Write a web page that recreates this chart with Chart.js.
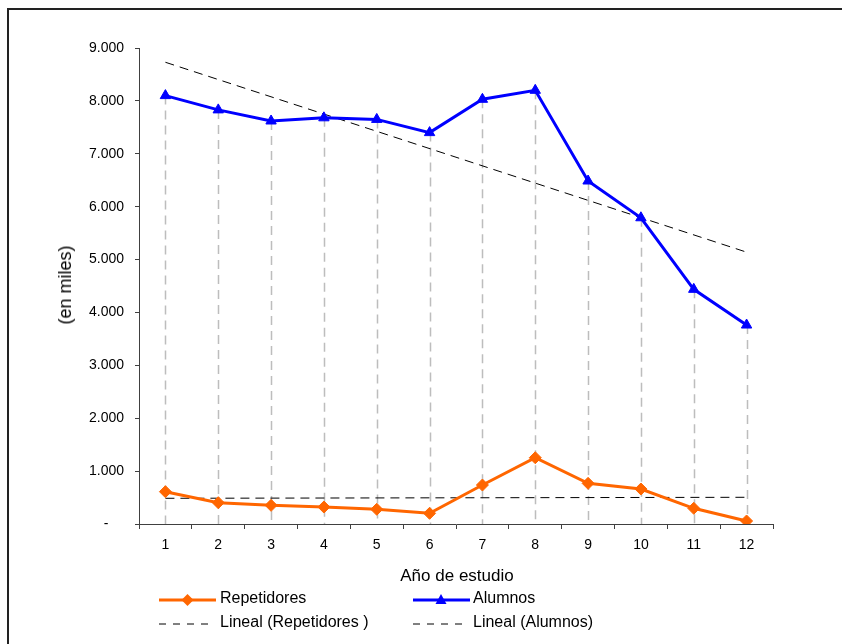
<!DOCTYPE html>
<html>
<head>
<meta charset="utf-8">
<script src="https://cdn.jsdelivr.net/npm/chart.js@4/dist/chart.umd.min.js"></script>
<style>
  html, body { margin: 0; padding: 0; background: #fff; }
  body { width: 842px; height: 644px; position: relative; overflow: hidden; font-family: "Liberation Sans", Arial, sans-serif; color: #000; }
  #frame { position: absolute; left: 7px; top: 8px; width: 900px; height: 700px; border-left: 2px solid #222; border-top: 2px solid #222; box-sizing: border-box; }
  canvas { position: absolute; left: 0; top: 0; }
  .txt { position: absolute; white-space: nowrap; }
  #ytitle { left: 65px; top: 285px; font-size: 18px; line-height: 18px; transform: translate(-50%, -50%) rotate(-90deg); }
  #xtitle { left: 357px; width: 200px; text-align: center; top: 567px; font-size: 17px; line-height: 17px; }
  .leg { position: absolute; font-size: 16px; line-height: 16px; white-space: nowrap; }
  .leg svg { position: absolute; }
</style>
</head>
<body>
<div id="frame"></div>
<canvas id="c" width="842" height="644"></canvas>
<div class="txt" id="ytitle">(en miles)</div>
<div class="txt" id="xtitle">Año de estudio</div>
<div id="legend"></div>
<script>
// ---- data ----
const categories = ['1','2','3','4','5','6','7','8','9','10','11','12'];
const repetidores = [611, 403, 353, 321, 278, 202, 737, 1253, 769, 662, 297, 57];
const alumnos = [8100, 7830, 7620, 7680, 7650, 7400, 8030, 8200, 6485, 5790, 4437, 3762];
// linear trend lines: values at first and last category
const trendRepetidores = [486, null, null, null, null, null, null, null, null, null, null, 505];
const trendAlumnos = [8730, null, null, null, null, null, null, null, null, null, null, 5140];
const yTicks = [0, 1000, 2000, 3000, 4000, 5000, 6000, 7000, 8000, 9000];
const legendLabels = ['Repetidores', 'Alumnos', 'Lineal (Repetidores )', 'Lineal (Alumnos)'];

const FONT = '"Liberation Sans", Arial, sans-serif';

function fmt(v) {
  if (v === 0) return '-\u2007\u2007';
  return v.toLocaleString('de-DE', { minimumFractionDigits: 3 }).replace(',', '.') ;
}
function fmtThousands(v) {
  if (v === 0) return '-\u2007\u2007';
  const k = Math.floor(v / 1000);
  return k + '.000';
}

const dropLines = {
  id: 'dropLines',
  beforeDatasetsDraw(chart) {
    const { ctx, scales: { x, y } } = chart;
    ctx.save();
    ctx.strokeStyle = '#bdbdbd';
    ctx.lineWidth = 1.5;
    ctx.setLineDash([9, 6]);
    alumnos.forEach((v, i) => {
      const px = Math.round(x.getPixelForValue(i)) + 0.5;
      ctx.beginPath();
      ctx.moveTo(px, y.getPixelForValue(v));
      ctx.lineTo(px, y.getPixelForValue(0));
      ctx.stroke();
    });
    ctx.restore();
  }
};

new Chart(document.getElementById('c'), {
  type: 'line',
  data: {
    labels: categories,
    datasets: [
      { label: legendLabels[2], data: trendRepetidores, borderColor: '#000', borderWidth: 1, borderDash: [9, 6], pointRadius: 0, spanGaps: true, fill: false, order: 3 },
      { label: legendLabels[3], data: trendAlumnos, borderColor: '#000', borderWidth: 1, borderDash: [9, 6], pointRadius: 0, spanGaps: true, fill: false, order: 4 },
      { label: legendLabels[0], data: repetidores, borderColor: '#FF6600', backgroundColor: '#FF6600', borderWidth: 3, pointStyle: 'rectRot', pointRadius: 6, pointBorderWidth: 1, tension: 0, order: 1 },
      { label: legendLabels[1], data: alumnos, borderColor: '#0000FF', backgroundColor: '#0000FF', borderWidth: 3, pointStyle: 'triangle', pointRadius: 6, pointBorderWidth: 1, tension: 0, order: 2 }
    ]
  },
  options: {
    responsive: false,
    animation: false,
    events: [],
    layout: { padding: { left: 0, right: 69, top: 48, bottom: 0 } },
    plugins: { legend: { display: false }, tooltip: { enabled: false }, title: { display: false } },
    scales: {
      x: {
        type: 'category',
        offset: true,
        afterFit(s) { s.height = 120; },
        grid: { display: true, drawOnChartArea: false, drawTicks: true, tickLength: 5, offset: true, color: '#404040', lineWidth: 1 },
        border: { display: true, color: '#404040', width: 1 },
        ticks: { color: '#000', font: { family: FONT, size: 14 }, padding: 8, maxRotation: 0, autoSkip: false }
      },
      y: {
        min: 0, max: 9000,
        afterFit(s) { s.width = 139; },
        afterBuildTicks(s) { s.ticks = yTicks.map(v => ({ value: v })); },
        grid: { display: true, drawOnChartArea: false, drawTicks: true, tickLength: 4, color: '#404040', lineWidth: 1 },
        border: { display: true, color: '#404040', width: 1 },
        ticks: { color: '#000', font: { family: FONT, size: 14 }, padding: 11, callback: (v) => fmtThousands(v) }
      }
    }
  },
  plugins: [dropLines]
});

// ---- legend (HTML) ----
const legend = document.getElementById('legend');
const legItems = [
  { text: legendLabels[0], lineX: 159, textX: 220, top: 590, sym: 'diamond', color: '#FF6600' },
  { text: legendLabels[1], lineX: 413, textX: 473, top: 590, sym: 'triangle', color: '#0000FF' },
  { text: legendLabels[2], lineX: 159, textX: 220, top: 614, sym: 'dash', color: '#000' },
  { text: legendLabels[3], lineX: 413, textX: 473, top: 614, sym: 'dash', color: '#000' }
];
legItems.forEach(it => {
  const svgNS = 'http://www.w3.org/2000/svg';
  const svg = document.createElementNS(svgNS, 'svg');
  svg.setAttribute('width', '60'); svg.setAttribute('height', '20');
  svg.style.position = 'absolute';
  svg.style.left = it.lineX + 'px';
  svg.style.top = (it.top) + 'px';
  const cy = 10;
  const line = document.createElementNS(svgNS, 'line');
  line.setAttribute('x1', 0); line.setAttribute('x2', 57);
  line.setAttribute('y1', cy); line.setAttribute('y2', cy);
  line.setAttribute('stroke', it.color);
  if (it.sym === 'dash') {
    line.setAttribute('stroke-width', 1);
    line.setAttribute('stroke-dasharray', '7 7');
    line.setAttribute('x2', 55);
  } else {
    line.setAttribute('stroke-width', 3);
  }
  svg.appendChild(line);
  if (it.sym === 'diamond') {
    const p = document.createElementNS(svgNS, 'polygon');
    const cx = 28.5;
    p.setAttribute('points', `${cx},${cy-6} ${cx+6},${cy} ${cx},${cy+6} ${cx-6},${cy}`);
    p.setAttribute('fill', it.color);
    svg.appendChild(p);
  } else if (it.sym === 'triangle') {
    const p = document.createElementNS(svgNS, 'polygon');
    const cx = 28;
    p.setAttribute('points', `${cx},${cy-6} ${cx+5.5},${cy+4} ${cx-5.5},${cy+4}`);
    p.setAttribute('fill', it.color);
    svg.appendChild(p);
  }
  legend.appendChild(svg);
  const d = document.createElement('div');
  d.className = 'leg';
  d.style.left = it.textX + 'px';
  d.style.top = it.top + 'px';
  d.textContent = it.text;
  legend.appendChild(d);
});
</script>
</body>
</html>
